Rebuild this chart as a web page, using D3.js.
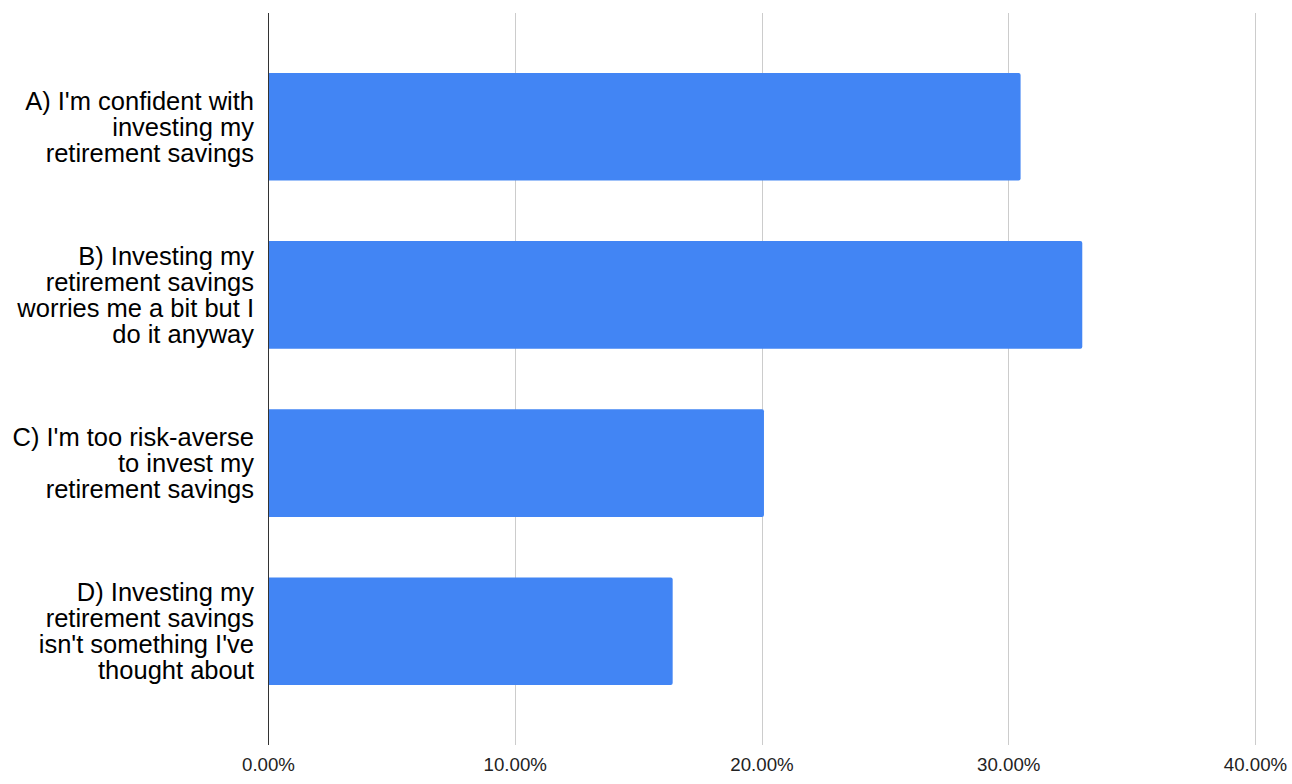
<!DOCTYPE html>
<html><head><meta charset="utf-8">
<script src="https://cdn.jsdelivr.net/npm/d3@7"></script>
<style>body{margin:0;background:#fff;font-family:"Liberation Sans",Arial,sans-serif;}</style>
</head><body><svg id="c" width="1292" height="784"></svg>
<script>
const categories = ["A","B","C","D"];
const labelLines = [
  ["A) I'm confident with","investing my","retirement savings"],
  ["B) Investing my","retirement savings","worries me a bit but I","do it anyway"],
  ["C) I'm too risk-averse","to invest my","retirement savings"],
  ["D) Investing my","retirement savings","isn't something I've","thought about"]
];
const values = [0.305, 0.330, 0.201, 0.164];
const ticks = [0, 0.1, 0.2, 0.3, 0.4];

const svg = d3.select("#c");
const x = d3.scaleLinear().domain([0, 0.4]).range([268, 1255]);
const y = d3.scaleBand().domain(categories).range([13, 745]).paddingInner(0.36).paddingOuter(0.356);

// gridlines
svg.append("g").selectAll("line").data(ticks.slice(1)).join("line")
  .attr("x1", d => Math.round(x(d)) + 0.5).attr("x2", d => Math.round(x(d)) + 0.5)
  .attr("y1", 13).attr("y2", 745).attr("stroke", "#cccccc").attr("stroke-width", 1);

// bars with small rounded right corners
svg.append("g").selectAll("path").data(categories).join("path")
  .attr("fill", "#4285f4")
  .attr("d", (c, i) => {
    const x0 = x(0), x1 = x(values[i]), y0 = y(c), h = y.bandwidth(), r = 2;
    return `M${x0},${y0}H${x1 - r}Q${x1},${y0} ${x1},${y0 + r}V${y0 + h - r}Q${x1},${y0 + h} ${x1 - r},${y0 + h}H${x0}Z`;
  });

// axis line
svg.append("line").attr("x1", 268.5).attr("x2", 268.5).attr("y1", 13).attr("y2", 745)
  .attr("stroke", "#333333").attr("stroke-width", 1);

// x tick labels
const xAxis = d3.axisBottom(x).tickValues(ticks).tickFormat(d3.format(".2%")).tickSize(0).tickPadding(0);
const gx = svg.append("g").attr("transform", "translate(0,771)").call(xAxis);
gx.select(".domain").remove();
gx.selectAll("text").attr("font-family", "Liberation Sans, Arial, sans-serif").attr("font-size", 18.7).attr("fill", "#222").attr("y", 0).attr("dy", 0);

// category labels
const lg = svg.append("g").selectAll("text").data(categories).join("text")
  .attr("text-anchor", "end").attr("font-size", 25.5).attr("fill", "#000")
  .attr("font-family", "Liberation Sans, Arial, sans-serif");
lg.each(function(c, i) {
  const lines = labelLines[i];
  const cy = y(c) + y.bandwidth() / 2;
  const lh = 26;
  const start = cy - (lines.length - 1) * lh / 2;
  d3.select(this).selectAll("tspan").data(lines).join("tspan")
    .attr("x", 254).attr("y", (d, j) => start + j * lh).attr("dy", "0.35em").text(d => d);
});
</script></body></html>
